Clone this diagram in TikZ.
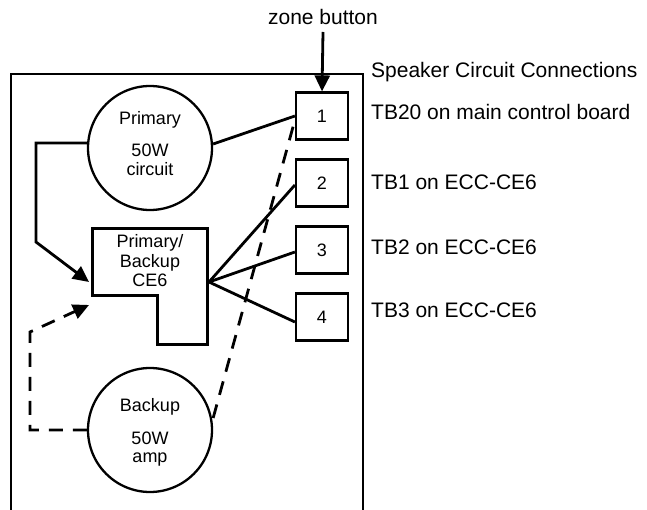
\documentclass[tikz,border=0pt]{standalone}
\usepackage{fontspec}
\setmainfont{Liberation Sans}
\usetikzlibrary{arrows.meta,calc}
\begin{document}
\begin{tikzpicture}[x=1pt,y=-1pt,
 lbl/.style={font=\fontsize{21}{25}\selectfont, anchor=base west, inner sep=0pt},
 circ/.style={circle, draw, line width=2.3pt, minimum size=124pt, inner sep=0pt},
 ctext/.style={align=center, inner sep=0pt, font=\fontsize{18}{18.5}\selectfont},
 tb/.style={draw, line width=2.2pt, minimum width=52pt, minimum height=47pt, inner sep=0pt, font=\fontsize{18}{20}\selectfont},
 wire/.style={line width=2.8pt},
 dwire/.style={line width=2.8pt, dash pattern=on 14pt off 10pt},
 tip/.style={-{Triangle[length=16pt,width=15pt]}},
 ce/.style={line width=3pt, line join=miter},
]
\useasboundingbox (0,0) rectangle (647,510);
% outer frame
\draw[line width=2.3pt] (11,510) -- (11,74) -- (363,74) -- (363,510);
% terminal boxes
\node[tb] (b1) at (322,116) {1};
\node[tb] (b2) at (322,183) {2};
\node[tb] (b3) at (322,250) {3};
\node[tb] (b4) at (322,317) {4};
% amplifiers
\node[circ] (prim) at (150,148) {};
\node[ctext] (primtxt) at (150,143.5) {Primary\\[13.5pt]50W\\circuit};
\node[circ] (back) at (150,430) {};
\node[ctext] (backtxt) at (150,432.5) {Backup\\[14.5pt]50W\\amp};
% CE6 shape
\draw[ce] (92,229) -- (207,229) -- (207,344) -- (157,344) -- (157,295) -- (92,295) -- cycle;
\node[align=center, font=\fontsize{18}{19.5}\selectfont, inner sep=0pt] (ce6) at (150,261) {Primary/\\Backup\\CE6};
\coordinate (fan) at (209,282);
\coordinate (t1) at (89,282);
\coordinate (t2) at (89,305);
% connectors
\draw[wire] ([yshift=4pt]prim.east) -- (b1.west);
\draw[wire] (fan) -- ([yshift=-2pt]b2.west);
\draw[wire] (fan) -- ([yshift=-2pt]b3.west);
\draw[wire] (fan) -- ([yshift=-5pt]b4.west);
\draw[wire,tip] ([yshift=5pt]prim.west) -| (36,242) -- (t1);
\draw[dwire,tip] (back.west) -| (30,332) -- (t2);
\draw[dwire] ([yshift=12pt]back.east) -- ([yshift=-4pt]b1.west);
% zone button
\node[font=\fontsize{21}{25}\selectfont, inner sep=0pt, anchor=base] (zb) at (323,25) {zone button};
\draw[wire,tip] ([yshift=-7pt]zb.base) -- (b1.north);
% labels
\node[lbl] (hdr) at (371,78) {Speaker Circuit Connections};
\node[lbl] (l1) at (371,119.5) {TB20 on main control board};
\node[lbl] (l2) at (371,190) {TB1 on ECC-CE6};
\node[lbl] (l3) at (371,255) {TB2 on ECC-CE6};
\node[lbl] (l4) at (371,317) {TB3 on ECC-CE6};
\end{tikzpicture}
\end{document}
